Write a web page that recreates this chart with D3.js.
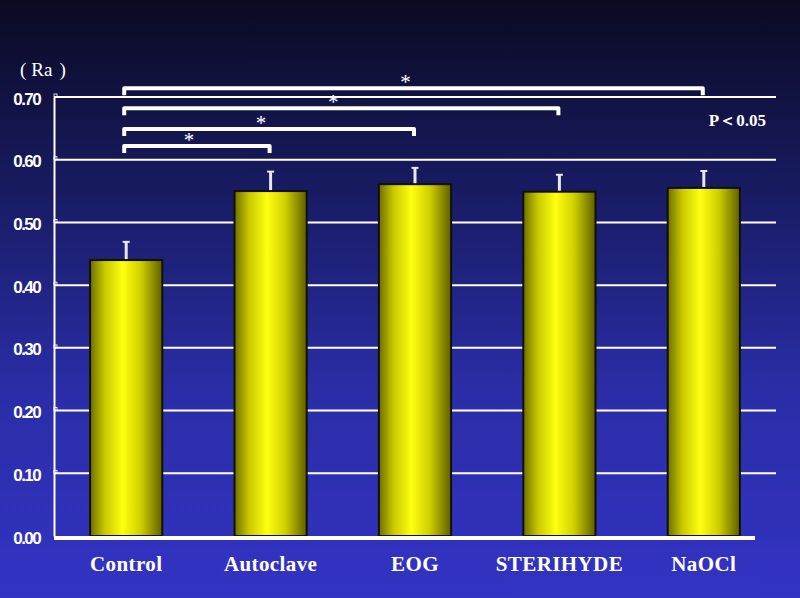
<!DOCTYPE html>
<html><head><meta charset="utf-8">
<script src="https://cdn.jsdelivr.net/npm/d3@7"></script>
<style>html,body{margin:0;padding:0;background:#101030;}svg{display:block;}</style>
</head><body>
<script>
const categories = ["Control","Autoclave","EOG","STERIHYDE","NaOCl"];
const values = [0.440, 0.550, 0.561, 0.549, 0.555];
const errors = [0.029, 0.031, 0.026, 0.027, 0.027];
const yTicks = [0,0.1,0.2,0.3,0.4,0.5,0.6,0.7];
const tickLabels = ["0.00","0.10","0.20","0.30","0.40","0.50","0.60","0.70"];
const comparisons = [
  {from:"Control", to:"NaOCl", level:0.714, mark:"*"},
  {from:"Control", to:"STERIHYDE", level:0.682, mark:"*"},
  {from:"Control", to:"EOG", level:0.649, mark:"*"},
  {from:"Control", to:"Autoclave", level:0.622, mark:"*"}
];
const W=800,H=598;
const svg=d3.select("body").append("svg").attr("width",W).attr("height",H);
const defs=svg.append("defs");
const bg=defs.append("linearGradient").attr("id","bg").attr("x1",0).attr("y1",0).attr("x2",0).attr("y2",1);
bg.append("stop").attr("offset","0%").attr("stop-color","#0a0a22");
bg.append("stop").attr("offset","30%").attr("stop-color","#171a5e");
bg.append("stop").attr("offset","65%").attr("stop-color","#2a2da6");
bg.append("stop").attr("offset","100%").attr("stop-color","#3333c4");
svg.append("rect").attr("width",W).attr("height",H).attr("fill","url(#bg)");
const bar=defs.append("linearGradient").attr("id","bar").attr("x1",0).attr("y1",0).attr("x2",1).attr("y2",0);
bar.append("stop").attr("offset","0%").attr("stop-color","#6e6e00");
bar.append("stop").attr("offset","20%").attr("stop-color","#c8c800");
bar.append("stop").attr("offset","45%").attr("stop-color","#ffff10");
bar.append("stop").attr("offset","70%").attr("stop-color","#d0d000");
bar.append("stop").attr("offset","100%").attr("stop-color","#5e5e00");

const x=d3.scaleBand().domain(categories).range([54,776]).paddingInner(0.5).paddingOuter(0.25);
const y=d3.scaleLinear().domain([0,0.7]).range([536,97]);

// grid
svg.append("g").selectAll("line").data(yTicks.slice(1)).join("line")
  .attr("x1",54).attr("x2",776).attr("y1",d=>y(d)).attr("y2",d=>y(d))
  .attr("stroke","#ffffff").attr("stroke-width",2);
// y axis
const ax=svg.append("g").attr("transform","translate(54,0)")
  .call(d3.axisLeft(y).tickValues(yTicks).tickFormat((d,i)=>tickLabels[i]).tickSize(0).tickPadding(14));
ax.select(".domain").attr("stroke","#ffffff").attr("stroke-width",2);
ax.selectAll("text").attr("fill","#ffffff").attr("font-family","Liberation Sans, Arial, sans-serif")
  .attr("font-weight","bold").attr("font-size",17).attr("letter-spacing","-1.6px").attr("dy","0.42em");
// small tick marks
svg.append("g").selectAll("rect").data(yTicks.slice(1)).join("rect")
  .attr("x",54).attr("y",d=>y(d)-3).attr("width",3).attr("height",3)
  .attr("fill","none").attr("stroke","#ffffff").attr("stroke-width",0.8);

// bars
svg.append("g").selectAll("rect").data(categories).join("rect")
  .attr("x",d=>x(d)).attr("width",x.bandwidth())
  .attr("y",(d,i)=>y(values[i])).attr("height",(d,i)=>y(0)-y(values[i]))
  .attr("fill","url(#bar)").attr("stroke","#111100").attr("stroke-width",2);
// error bars
const eg=svg.append("g");
categories.forEach((c,i)=>{
  const cx=x(c)+x.bandwidth()/2;
  eg.append("line").attr("x1",cx).attr("x2",cx).attr("y1",y(values[i])-1).attr("y2",y(values[i]+errors[i]))
    .attr("stroke","#e6e6f4").attr("stroke-width",3);
  eg.append("line").attr("x1",cx-3.5).attr("x2",cx+3.5).attr("y1",y(values[i]+errors[i])).attr("y2",y(values[i]+errors[i]))
    .attr("stroke","#e6e6f4").attr("stroke-width",2);
});
// baseline
svg.append("line").attr("x1",54).attr("x2",755).attr("y1",y(0)+2).attr("y2",y(0)+2)
  .attr("stroke","#ffffff").attr("stroke-width",4);

// category labels
svg.append("g").selectAll("text").data(categories).join("text")
  .attr("x",d=>x(d)+x.bandwidth()/2).attr("y",571).attr("text-anchor","middle")
  .attr("fill","#ffffff").attr("font-family","Liberation Serif, Times New Roman, serif")
  .attr("font-weight","bold").attr("font-size",21).attr("letter-spacing","0.4px").text(d=>d);

// brackets
const bg2=svg.append("g");
comparisons.forEach(cmp=>{
  const x1=x(cmp.from)+x.bandwidth()/2-4, x2=x(cmp.to)+x.bandwidth()/2+1;
  const yy=y(cmp.level);
  bg2.append("path").attr("d",`M${x1+2},${yy+7}V${yy}H${x2-2}V${yy+7}`)
    .attr("fill","none").attr("stroke","#ffffff").attr("stroke-width",4).attr("stroke-linejoin","round");
  bg2.append("text").attr("x",(x1+x2)/2-8).attr("y",yy+1).attr("text-anchor","middle")
    .attr("fill","#ffffff").attr("font-family","Liberation Serif, serif").attr("font-size",21).text(cmp.mark);
});

const ra=svg.append("text").attr("x",20).attr("y",76).attr("fill","#ffffff")
  .attr("font-family","Liberation Serif, Times New Roman, serif").attr("font-size",19);
ra.append("tspan").text("(");
ra.append("tspan").attr("dx",5).text("Ra");
ra.append("tspan").attr("dx",7).text(")");
svg.append("text").attr("x",766).attr("y",126).attr("text-anchor","end").attr("fill","#ffffff")
  .attr("font-family","Liberation Serif, Times New Roman, serif").attr("font-weight","bold").attr("font-size",17).text("P＜0.05");
</script>
</body></html>
